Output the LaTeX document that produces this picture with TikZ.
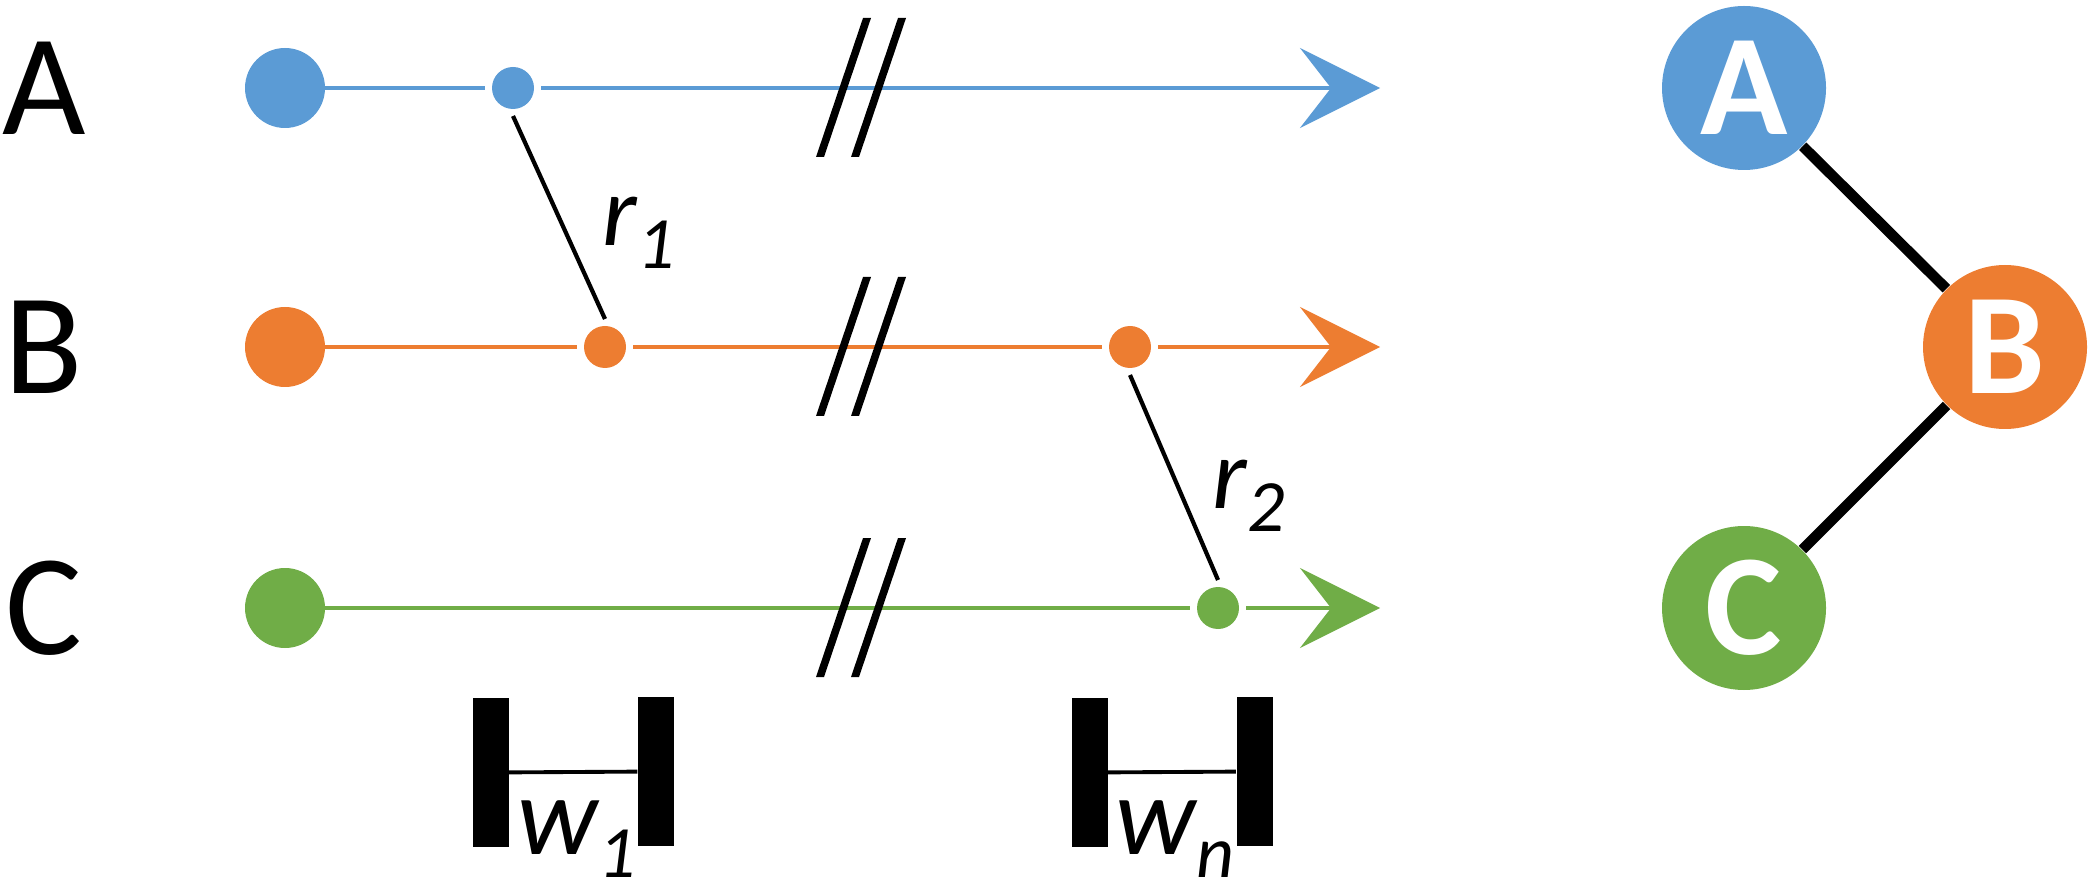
\documentclass[tikz,border=0pt]{standalone}
\usepackage{fontspec}
\setmainfont{Carlito}
\usepackage{tikz}
\usetikzlibrary{positioning, calc, arrows.meta}
\definecolor{seqBlue}{RGB}{91,155,213}
\definecolor{seqOrange}{RGB}{237,125,49}
\definecolor{seqGreen}{RGB}{112,173,71}
\tikzset{
    rowlabel/.style={
        inner sep=0,
        font=\fontsize{41}{41}\selectfont
    },
    bigdot/.style={circle, minimum size=0.80cm, inner sep=0, outer sep=0},
    smalldot/.style={circle, minimum size=0.42cm, inner sep=0, outer sep=0.07cm},
    seqline/.style={line width=1.15pt},
    seqarrow/.style={
        seqline,
        -{Stealth[length=0.8cm, width=0.8cm, inset=0.31cm]}
    },
    recomb/.style={line width=1.2pt},
    winbar/.style={fill=black, minimum width=0.36cm, minimum height=1.49cm, inner sep=0},
    winline/.style={line width=1.1pt},
    sublabel/.style={inner sep=0, anchor=base west},
    graphnode/.style={
        circle,
        minimum size=1.64cm,
        inner sep=0,
        text=white,
        font=\bfseries\fontsize{41}{41}\selectfont
    },
    graphedge/.style={line width=3pt}
}
\newcommand{\seqsub}[3]{{\fontsize{#1}{#1}\selectfont\itshape #2\raisebox{-0.23cm}{\fontsize{21}{21}\selectfont #3}}}

\begin{document}
\begin{tikzpicture}
    \useasboundingbox (0,0) rectangle (20.94,-8.90);

    % Các nhãn và điểm đầu
    \node[rowlabel] (labA) at (0.44,-0.88) {A};
    \node[rowlabel] (labB) at (0.44,-3.47) {B};
    \node[rowlabel] (labC) at (0.44,-6.08) {C};
    \node[bigdot, fill=seqBlue] (A0) at (2.85,-0.88) {};
    \node[bigdot, fill=seqOrange] (B0) at (2.85,-3.47) {};
    \node[bigdot, fill=seqGreen] (C0) at (2.85,-6.08) {};

    % Các điểm tái tổ hợp
    \node[smalldot, fill=seqBlue] (A1) at (5.13,-0.88) {};
    \node[smalldot, fill=seqOrange] (B1) at (6.05,-3.47) {};
    \node[smalldot, fill=seqOrange] (B2) at (11.30,-3.47) {};
    \node[smalldot, fill=seqGreen] (C1) at (12.18,-6.08) {};
    \coordinate (Aend) at (13.80,-0.88);
    \coordinate (Bend) at (13.80,-3.47);
    \coordinate (Cend) at (13.80,-6.08);

    % Các đường
    \draw[seqline, seqBlue] (A0) -- (A1);
    \draw[seqarrow, seqBlue] (A1) -- (Aend);
    \draw[seqline, seqOrange] (B0) -- (B1);
    \draw[seqline, seqOrange] (B1) -- (B2);
    \draw[seqarrow, seqOrange] (B2) -- (Bend);
    \draw[seqline, seqGreen] (C0) -- (C1);
    \draw[seqarrow, seqGreen] (C1) -- (Cend);

    % Dấu ngắt
    \foreach \y in {-0.88,-3.47,-6.08}
        \foreach \x in {8.20,8.55}
            \fill (\x-0.04,\y-0.69) -- (\x+0.04,\y-0.69) -- (\x+0.51,\y+0.70) -- (\x+0.43,\y+0.70) -- cycle;

    % Liên kết r
    \draw[recomb] (A1.south) -- (B1.north);
    \node[sublabel] (r1) at (6.02,-2.46) {\seqsub{28.6}{r}{1}};
    \draw[recomb] (B2.south) -- (C1.north);
    \node[sublabel] (r2) at (12.12,-5.08) {\seqsub{28.6}{r}{2}};

    % Cửa sổ
    \node[winbar] (w1L) at (4.905,-7.725) {};
    \node[winbar] (w1R) at (6.56,-7.715) {};
    \draw[winline] (w1L) -- (w1R);
    \node[sublabel] (w1) at (5.17,-8.54) {\seqsub{32}{w}{1}};
    \node[winbar] (w2L) at (10.895,-7.725) {};
    \node[winbar] (w2R) at (12.545,-7.715) {};
    \draw[winline] (w2L) -- (w2R);
    \node[sublabel] (wn) at (11.15,-8.54) {\seqsub{32}{w}{n}};

    % Đồ thị
    \node[graphnode, fill=seqBlue] (gA) at (17.44,-0.88) {A};
    \node[graphnode, fill=seqOrange] (gB) at (20.05,-3.47) {B};
    \node[graphnode, fill=seqGreen] (gC) at (17.44,-6.08) {C};
    \draw[graphedge] (gA) -- (gB);
    \draw[graphedge] (gC) -- (gB);
\end{tikzpicture}
\end{document}
